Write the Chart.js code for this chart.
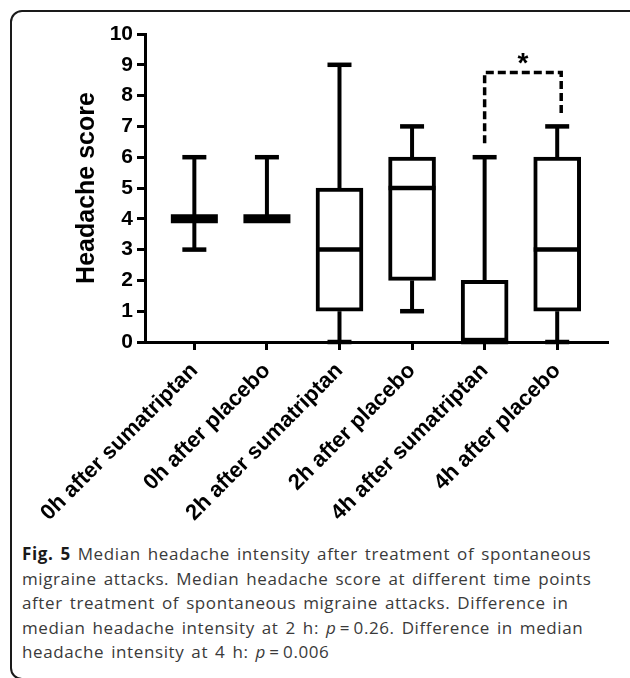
<!DOCTYPE html>
<html lang="en">
<head>
    <meta charset="UTF-8">
    <script src="https://cdn.jsdelivr.net/npm/chart.js@4"></script>
    <title>Headache score</title>
    <style>
        body { margin: 0; width: 630px; height: 678px; overflow: hidden; background: #fff; position: relative; }
        #frame { position: absolute; left: 10px; top: 10px; width: 632px; height: 670px; box-sizing: border-box;
                 border: 2px solid #1a1a1a; border-radius: 12px; }
        #chart { position: absolute; left: 0; top: 0; }
        #caption { position: absolute; left: 22px; top: 542px; font-family: 'Open Sans', sans-serif; font-size: 17px;
                   letter-spacing: 0.6px; word-spacing: 2px; line-height: 24.5px; color: #3a3a3a; white-space: nowrap; }
        #caption b { color: #1a1a1a; }
    </style>
</head>
<body>
    <div id="frame"></div>
    <canvas id="chart" width="630" height="540"></canvas>
    <div id="caption">
        <b>Fig. 5</b> Median headache intensity after treatment of spontaneous<br>
        migraine attacks. Median headache score at different time points<br>
        after treatment of spontaneous migraine attacks. Difference in<br>
        median headache intensity at 2 h: <i>p</i>&#8201;=&#8201;0.26. Difference in median<br>
        headache intensity at 4 h: <i>p</i>&#8201;=&#8201;0.006
    </div>
    <script>
        // groups on the x axis
        const categories = ['0h after sumatriptan', '0h after placebo', '2h after sumatriptan',
                            '2h after placebo', '4h after sumatriptan', '4h after placebo'];
        // box plot values (headache score)
        const whiskerMin = [3, 4, 0, 1, 0, 0];
        const q1 = [4, 4, 1, 2, 0, 1];
        const median = [4, 4, 3, 5, 0, 3];
        const q3 = [4, 4, 5, 6, 2, 6];
        const whiskerMax = [6, 6, 9, 7, 6, 7];
        // significance bracket between 4h groups
        const bracketPair = [4, 5];
        const bracketTop = 8.75;
        const bracketFeet = [6.45, 7.4];
        const bracketLabel = '*';

        const boxWidth = 47;
        const font = 'Liberation Sans, Arial, sans-serif';
        Chart.defaults.font.family = font;
        Chart.defaults.color = '#000';

        // whiskers, caps, medians and the bracket, placed through the chart scales
        const boxExtras = {
            id: 'boxExtras',
            afterDatasetsDraw(chart) {
                const {ctx, scales: {x, y}} = chart;
                const seg = (x1, y1, x2, y2) => { ctx.beginPath(); ctx.moveTo(x1, y1); ctx.lineTo(x2, y2); ctx.stroke(); };
                ctx.save();
                ctx.strokeStyle = '#000';
                categories.forEach((c, i) => {
                    const px = x.getPixelForValue(i);
                    ctx.lineWidth = 4;
                    if (whiskerMin[i] < q1[i]) seg(px, y.getPixelForValue(q1[i]), px, y.getPixelForValue(whiskerMin[i]));
                    if (whiskerMax[i] > q3[i]) seg(px, y.getPixelForValue(q3[i]), px, y.getPixelForValue(whiskerMax[i]));
                    ctx.lineWidth = 4.5;
                    if (whiskerMin[i] < q1[i]) seg(px - 12, y.getPixelForValue(whiskerMin[i]), px + 12, y.getPixelForValue(whiskerMin[i]));
                    if (whiskerMax[i] > q3[i]) seg(px - 12, y.getPixelForValue(whiskerMax[i]), px + 12, y.getPixelForValue(whiskerMax[i]));
                    ctx.lineWidth = q1[i] === q3[i] ? 9 : 4.5;
                    const pm = y.getPixelForValue(median[i]);
                    seg(px - boxWidth / 2, pm, px + boxWidth / 2, pm);
                });
                // dashed bracket
                const xa = x.getPixelForValue(bracketPair[0]);
                const xb = x.getPixelForValue(bracketPair[1]) + 4;
                const yt = y.getPixelForValue(bracketTop);
                ctx.lineWidth = 3.5;
                ctx.setLineDash([8, 4]);
                ctx.beginPath();
                ctx.moveTo(xa, y.getPixelForValue(bracketFeet[0]));
                ctx.lineTo(xa, yt);
                ctx.lineTo(xb, yt);
                ctx.lineTo(xb, y.getPixelForValue(bracketFeet[1]));
                ctx.stroke();
                ctx.setLineDash([]);
                ctx.fillStyle = '#000';
                ctx.font = 'bold 28px ' + font;
                ctx.textAlign = 'center';
                ctx.textBaseline = 'alphabetic';
                ctx.fillText(bracketLabel, (xa + xb) / 2, yt - 1);
                ctx.restore();
            }
        };

        const ctx = document.getElementById('chart').getContext('2d');
        new Chart(ctx, {
            type: 'bar',
            data: {
                datasets: [{
                    label: 'Headache score',
                    data: categories.map((c, i) => ({x: i, y: [q1[i], q3[i]]})),
                    backgroundColor: '#fff',
                    borderColor: '#000',
                    borderWidth: 4,
                    borderSkipped: false,
                    barThickness: boxWidth
                }]
            },
            options: {
                responsive: false,
                animation: false,
                devicePixelRatio: 1,
                layout: { padding: { top: 34, right: 22, left: 0, bottom: 0 } },
                plugins: { legend: { display: false }, tooltip: { enabled: false } },
                scales: {
                    x: {
                        type: 'linear',
                        offset: false,
                        min: -0.68,
                        max: 5.7,
                        afterBuildTicks: s => { s.ticks = categories.map((c, i) => ({value: i})); },
                        afterFit: s => { s.height = 198; },
                        ticks: {
                            callback: v => categories[v],
                            minRotation: 45, maxRotation: 45, autoSkip: false,
                            font: { size: 22, weight: 'bold' }, padding: 8
                        },
                        grid: { offset: false, drawOnChartArea: false, tickLength: 8, tickWidth: 3, tickColor: '#000' },
                        border: { color: '#000', width: 3 }
                    },
                    y: {
                        min: 0,
                        max: 10,
                        afterFit: s => { s.width = 145; },
                        ticks: { stepSize: 1, font: { size: 21, weight: 'bold' }, padding: 4 },
                        grid: { drawOnChartArea: false, tickLength: 8, tickWidth: 3, tickColor: '#000' },
                        border: { color: '#000', width: 3 },
                        title: { display: true, text: 'Headache score', font: { size: 25, weight: 'bold' },
                                 padding: { top: 72, bottom: 0 } }
                    }
                }
            },
            plugins: [boxExtras]
        });
    </script>
</body>
</html>
